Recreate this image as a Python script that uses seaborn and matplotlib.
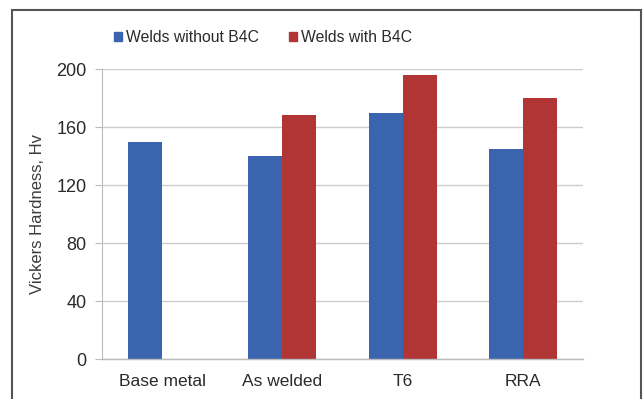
import matplotlib
matplotlib.use("Agg")
import matplotlib.pyplot as plt
import matplotlib.patches as mpatches
import numpy as np
import pandas as pd
import seaborn as sns

# Hardness values per condition
conditions = ["Base metal", "As welded", "T6", "RRA"]
without_b4c = [150, 140, 170, 145]
with_b4c = [np.nan, 168, 196, 180]
series_names = ["Welds without B4C", "Welds with B4C"]
y_ticks = [0, 40, 80, 120, 160, 200]

colors = ["#3A64AE", "#B23536"]

df = pd.DataFrame({
    "Condition": conditions * 2,
    "Hardness": without_b4c + with_b4c,
    "Series": [series_names[0]] * 4 + [series_names[1]] * 4,
})

sns.set_theme(style="white")
plt.rcParams["font.family"] = ["Liberation Sans", "DejaVu Sans"]

fig = plt.figure(figsize=(6.44, 3.99), dpi=100)
ax = fig.add_axes([102 / 644, 1 - 359 / 399, (583 - 102) / 644, (359 - 69) / 399])

sns.barplot(data=df, x="Condition", y="Hardness", hue="Series",
            palette=colors, width=0.567, saturation=1, ax=ax,
            legend=False, errorbar=None, linewidth=0)

text_color = "#2a2a2a"
ax.set_ylim(0, 200)
ax.set_xlim(-0.5, 3.5)
ax.set_yticks(y_ticks)
ax.set_yticklabels([str(t) for t in y_ticks], fontsize=13, color=text_color)
ax.tick_params(axis="x", labelsize=12.5, colors=text_color, length=0, pad=11)
ax.tick_params(axis="y", length=5, width=0.8, color="#bbbbbb", left=True, pad=6)
ax.set_xlabel("")
ax.set_ylabel("Vickers Hardness, Hv", fontsize=12, color="#3a3a3a", labelpad=8)

ax.yaxis.grid(True, color="#cccccc", linewidth=1)
ax.set_axisbelow(True)
for side in ["top", "right"]:
    ax.spines[side].set_visible(False)
ax.spines["left"].set_color("#bbbbbb")
ax.spines["bottom"].set_color("#bbbbbb")
ax.spines["left"].set_linewidth(0.8)
ax.spines["bottom"].set_linewidth(1)

handles = [mpatches.Patch(color=c, label=n) for c, n in zip(colors, series_names)]
fig.legend(handles=handles, loc="center", bbox_to_anchor=(263 / 644, 1 - 38 / 399),
           ncol=2, frameon=False, fontsize=11.3, handlelength=0.5, handleheight=0.5,
           handletextpad=0.25, columnspacing=1.9, labelcolor=text_color)

# Outer frame around the chart area
frame = mpatches.Rectangle((11.5 / 644, -0.05), (641 - 11.5) / 644, 1.05 - 10 / 399,
                           transform=fig.transFigure, fill=False,
                           edgecolor="#555555", linewidth=1.5)
fig.patches.append(frame)

fig.savefig("out.png", dpi=100)
